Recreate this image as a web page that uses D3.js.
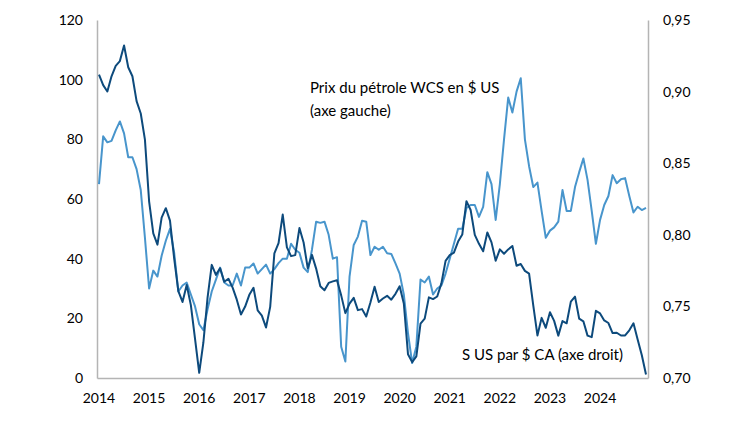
<!DOCTYPE html>
<html lang="fr">
<head>
  <meta charset="utf-8">
  <title>WCS et dollar canadien</title>
  <script src="https://d3js.org/d3.v7.min.js"></script>
  <style>
    body { margin: 0; background: #fff; }
    text { font-family: Lato, "Open Sans", sans-serif; fill: #000; }
  </style>
</head>
<body>
<script>
  // ordre : janv. 2014 -> déc. 2024, mensuel
  var years = ["2014", "2015", "2016", "2017", "2018", "2019", "2020", "2021", "2022", "2023", "2024"];

  // prix du pétrole WCS, $ US le baril (axe gauche)
  var wcs = [
    65, 81, 79, 79.5, 83, 86, 82, 74, 74, 70, 63, 47,
    30, 36, 34, 41, 46, 50, 42, 29, 31, 32, 28, 24,
    18, 16, 23, 29, 33, 37, 32, 31, 31, 35, 31, 37,
    37, 38.4, 35, 36.5, 38, 35, 36.5, 38.5, 40, 40, 45, 43,
    42, 37, 35.5, 43, 52.4, 52, 52.4, 48, 40, 40.5, 10.5, 5.5,
    34, 44.6, 47.4, 52.7, 52.4, 41.2, 44, 43, 44, 41.8, 41.6, 38.4,
    35, 28, 15, 5, 10.5, 33, 32, 34, 28, 30, 31, 35,
    40, 45, 50, 50, 57, 58, 58, 54, 57.4, 69, 65, 53,
    65, 80, 94, 89, 96, 100.5, 80, 71, 64, 65.5, 56, 47,
    49.4, 50.5, 52.4, 63, 56, 56, 64, 69, 73.6, 66.4, 56, 45,
    53, 58, 61, 68, 65.3, 66.6, 67, 61, 55.5, 57.4, 56.3, 57
  ];

  // $ US par $ CA (axe droit)
  var usdcad = [
    0.9118, 0.9045, 0.9001, 0.9107, 0.9180, 0.9213, 0.9322, 0.9170, 0.9107, 0.8933, 0.8847, 0.8665,
    0.8234, 0.8010, 0.7931, 0.8120, 0.8186, 0.8099, 0.7835, 0.7607, 0.7531, 0.7649, 0.7509, 0.7273,
    0.7036, 0.7248, 0.7561, 0.7790, 0.7720, 0.7766, 0.7672, 0.7693, 0.7631, 0.7547, 0.7443, 0.7499,
    0.7581, 0.7630, 0.7472, 0.7435, 0.7353, 0.7497, 0.7871, 0.7942, 0.8141, 0.7912, 0.7851, 0.7858,
    0.8047, 0.7946, 0.7766, 0.7860, 0.7764, 0.7640, 0.7613, 0.7664, 0.7675, 0.7683, 0.7577, 0.7453,
    0.7519, 0.7560, 0.7474, 0.7481, 0.7429, 0.7527, 0.7637, 0.7531, 0.7555, 0.7574, 0.7547, 0.7588,
    0.7641, 0.7520, 0.7166, 0.7111, 0.7151, 0.7380, 0.7415, 0.7563, 0.7551, 0.7569, 0.7661, 0.7818,
    0.7858, 0.7875, 0.7953, 0.8002, 0.8235, 0.8173, 0.7999, 0.7937, 0.7885, 0.8016, 0.7947, 0.7819,
    0.7898, 0.7868, 0.7898, 0.7922, 0.7784, 0.7796, 0.7748, 0.7729, 0.7507, 0.7297, 0.7420, 0.7351,
    0.7459, 0.7399, 0.7296, 0.7398, 0.7382, 0.7533, 0.7568, 0.7414, 0.7396, 0.7296, 0.7285, 0.7469,
    0.7451, 0.7402, 0.7384, 0.7314, 0.7316, 0.7297, 0.7297, 0.7333, 0.7382, 0.7269, 0.7159, 0.7025
  ];

  var leftTicks = [0, 20, 40, 60, 80, 100, 120];
  var rightTicks = [0.70, 0.75, 0.80, 0.85, 0.90, 0.95];

  var W = 750, H = 422;
  var plotL = 97, plotR = 648, plotT = 20, plotB = 378;

  var svg = d3.select("body").append("svg")
    .attr("width", W)
    .attr("height", H);

  var x = d3.scaleLinear().domain([0, wcs.length - 1]).range([plotL + 2, plotR - 2]);
  var yL = d3.scaleLinear().domain([0, 120]).range([plotB, plotT]);
  var yR = d3.scaleLinear().domain([0.70, 0.95]).range([plotB, plotT]);

  // axes
  var axL = svg.append("g")
    .attr("transform", "translate(" + plotL + ",0)")
    .call(d3.axisLeft(yL).tickValues(leftTicks).tickSize(0).tickPadding(14)
      .tickSizeOuter(0));
  var axR = svg.append("g")
    .attr("transform", "translate(" + plotR + ",0)")
    .call(d3.axisRight(yR).tickValues(rightTicks).tickSize(0).tickPadding(15)
      .tickSizeOuter(0).tickFormat(function (d) { return d.toFixed(2).replace(".", ","); }));
  var xb = d3.scaleLinear().domain([0, 1]).range([plotL, plotR]);
  var axB = svg.append("g")
    .attr("transform", "translate(0," + plotB + ")")
    .call(d3.axisBottom(xb).tickValues([]).tickSizeOuter(0));

  [axL, axR, axB].forEach(function (a) {
    a.select(".domain").attr("stroke", "#b4b4b4").attr("stroke-width", 1.5);
    a.selectAll("text").attr("font-size", "14px").attr("fill", "#000")
      .style("font-family", "Lato, 'Open Sans', sans-serif");
  });

  // étiquettes des années
  svg.append("g").selectAll("text")
    .data(years)
    .enter()
    .append("text")
    .attr("x", function (d, i) { return x(i * 12); })
    .attr("y", 403)
    .attr("text-anchor", "middle")
    .attr("font-size", "14px")
    .text(function (d) { return d; });

  // séries
  var lineL = d3.line()
    .x(function (d, i) { return x(i); })
    .y(function (d) { return yL(d); });
  var lineR = d3.line()
    .x(function (d, i) { return x(i); })
    .y(function (d) { return yR(d); });

  svg.append("path")
    .datum(wcs)
    .attr("fill", "none")
    .attr("stroke", "#4895cc")
    .attr("stroke-width", 2)
    .attr("stroke-linejoin", "round")
    .attr("d", lineL);

  svg.append("path")
    .datum(usdcad)
    .attr("fill", "none")
    .attr("stroke", "#0d4a7c")
    .attr("stroke-width", 2)
    .attr("stroke-linejoin", "round")
    .attr("d", lineR);

  // annotations
  svg.append("text")
    .attr("x", 310).attr("y", 93)
    .attr("font-size", "15px")
    .text("Prix du pétrole WCS en $ US");
  svg.append("text")
    .attr("x", 310).attr("y", 116)
    .attr("font-size", "15px")
    .text("(axe gauche)");
  svg.append("text")
    .attr("x", 462).attr("y", 360)
    .attr("font-size", "15px")
    .text("S US par $ CA (axe droit)");
</script>
</body>
</html>
